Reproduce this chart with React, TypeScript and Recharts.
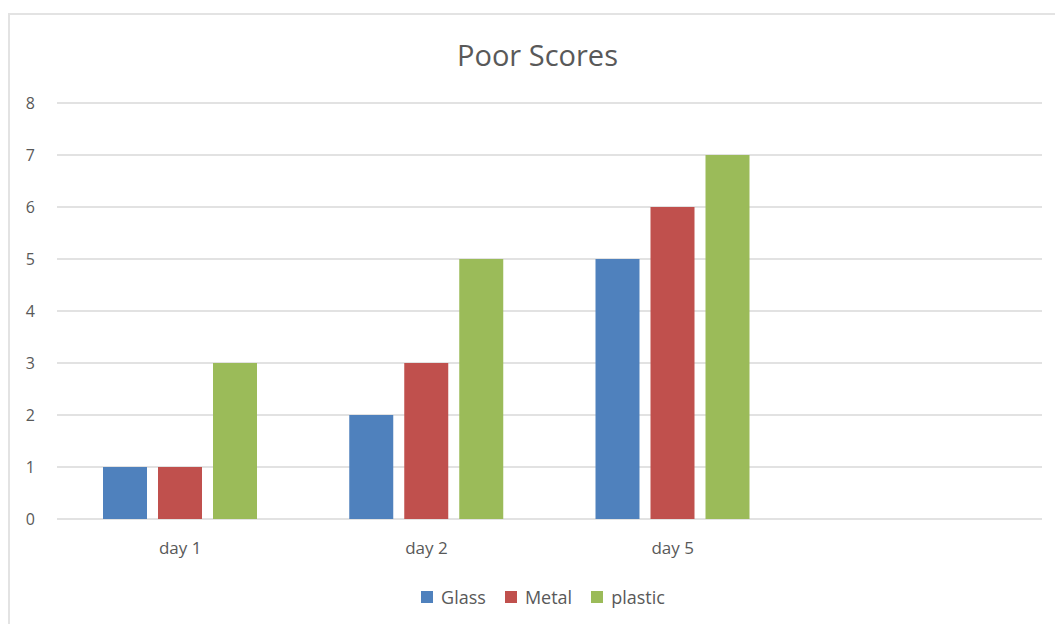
import React from 'react';
import { BarChart, Bar, XAxis, YAxis, CartesianGrid, Legend } from 'recharts';

const categories = ['day 1', 'day 2', 'day 5', ''];
const glass = [1, 2, 5, null];
const metal = [1, 3, 6, null];
const plastic = [3, 5, 7, null];
const yTicks = [0, 1, 2, 3, 4, 5, 6, 7, 8];

const FONT = '"Open Sans", sans-serif';
const TEXT = '#595959';

const data = categories.map((name, i) => ({
    name,
    Glass: glass[i],
    Metal: metal[i],
    plastic: plastic[i],
}));

// legend laid out like the Excel one: small square, then the name
const renderLegend = (props: any) => {
    const { payload = [] } = props;
    return (
        <div
            style={{
                display: 'flex',
                justifyContent: 'center',
                gap: 19,
                paddingTop: 4,
                fontFamily: FONT,
                fontSize: 18,
                color: TEXT,
                lineHeight: '24px',
            }}
        >
            {payload.map((entry: any) => (
                <div key={entry.value} style={{ display: 'flex', alignItems: 'center', gap: 8 }}>
                    <span style={{ width: 12, height: 12, background: entry.color, display: 'inline-block' }} />
                    <span>{entry.value}</span>
                </div>
            ))}
        </div>
    );
};

const App: React.FC = () => {
    return (
        <div
            style={{
                position: 'absolute',
                left: 0,
                top: 0,
                width: 1055,
                height: 624,
                overflow: 'hidden',
                background: '#fff',
                fontFamily: FONT,
            }}
        >
            {/* chart frame */}
            <div
                style={{
                    position: 'absolute',
                    left: 8,
                    top: 13,
                    width: 1070,
                    height: 640,
                    border: '2px solid #E3E3E3',
                    boxSizing: 'border-box',
                }}
            />
            <div
                style={{
                    position: 'absolute',
                    left: 0,
                    top: 35,
                    width: 1075,
                    textAlign: 'center',
                    fontSize: 29,
                    color: TEXT,
                    lineHeight: '40px',
                }}
            >
                Poor Scores
            </div>
            <div style={{ position: 'absolute', left: 0, top: 0 }}>
                <BarChart
                    width={1055}
                    height={624}
                    data={data}
                    margin={{ top: 103, right: 13, left: 0, bottom: 0 }}
                    barCategoryGap={46}
                    barGap={11}
                >
                    <CartesianGrid vertical={false} stroke="#D9D9D9" strokeWidth={1.5} />
                    <XAxis
                        dataKey="name"
                        axisLine={false}
                        tickLine={false}
                        tickMargin={17}
                        height={62}
                        tick={{ fill: TEXT, fontSize: 17, fontFamily: FONT }}
                    />
                    <YAxis
                        width={57}
                        domain={[0, 8]}
                        ticks={yTicks}
                        axisLine={false}
                        tickLine={false}
                        tickMargin={16}
                        tick={{ fill: TEXT, fontSize: 16, fontFamily: FONT }}
                    />
                    <Legend
                        verticalAlign="bottom"
                        height={43}
                        wrapperStyle={{ left: 22 }}
                        content={renderLegend}
                    />
                    <Bar dataKey="Glass" fill="#4F81BD" isAnimationActive={false} />
                    <Bar dataKey="Metal" fill="#C0504D" isAnimationActive={false} />
                    <Bar dataKey="plastic" fill="#9BBB59" isAnimationActive={false} />
                </BarChart>
            </div>
        </div>
    );
};

export default App;
